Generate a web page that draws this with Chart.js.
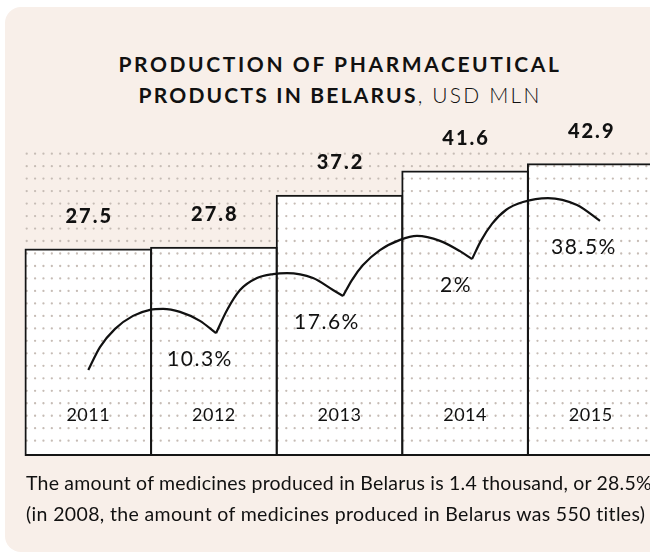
<!DOCTYPE html>
<html lang="en">
<head>
<meta charset="UTF-8">
<title>Production of pharmaceutical products in Belarus</title>
<script src="https://cdn.jsdelivr.net/npm/chart.js"></script>
<style>
  html, body { margin: 0; padding: 0; background: #fff; width: 650px; height: 553px; overflow: hidden; }
  body { position: relative; font-family: 'Lato', sans-serif; color: #111; }
  .panel { position: absolute; left: 5px; top: 7px; width: 680px; height: 545px; background: #f8efe9; border-radius: 16px; }
  .title { position: absolute; left: 5px; width: 670px; top: 48px; text-align: center; font-size: 21px; line-height: 31px; }
  .title .l1 { letter-spacing: 2.6px; }
  .title .l2 { letter-spacing: 2.2px; }
  .title b { font-weight: 700; }
  .title span { font-weight: 300; }
  .note { position: absolute; left: 26px; top: 467px; font-size: 19.5px; line-height: 31px; white-space: nowrap; }
  .note .n1 { letter-spacing: 0.2px; }
  .note .n2 { letter-spacing: 0.35px; }
  #chart { position: absolute; left: 0; top: 0; }
</style>
</head>
<body>
<div class="panel"></div>
<div class="title"><div class="l1"><b>PRODUCTION OF PHARMACEUTICAL</b></div><div class="l2"><b>PRODUCTS IN BELARUS</b><span>, USD MLN</span></div></div>
<canvas id="chart" width="680" height="553"></canvas>
<div class="note"><div class="n1">The amount of medicines produced in Belarus is 1.4 thousand, or 28.5%</div><div class="n2">(in 2008, the amount of medicines produced in Belarus was 550 titles)</div></div>

<script>
// production, USD mln
const years = ['2011', '2012', '2013', '2014', '2015'];
const output = [27.5, 27.8, 37.2, 41.6, 42.9];
const growth = ['10.3%', '17.6%', '2%', '38.5%'];

// decorative growth curve
// x in bar positions (0 = first bar centre), y in % of plot height
const arcX = [
    [0.00, 0.093, 0.213, 0.356, 0.491, 0.595, 0.730, 0.889, 1.017],
    [1.017, 1.105, 1.208, 1.343, 1.471, 1.582, 1.789, 1.948, 2.028],
    [2.028, 2.099, 2.187, 2.322, 2.482, 2.617, 2.800, 2.959, 3.055],
    [3.055, 3.126, 3.214, 3.325, 3.461, 3.660, 3.891, 4.074]
];
const arcY = [
    [25.9, 32.8, 38.3, 42.2, 44.0, 44.3, 43.4, 40.7, 37.0],
    [37.0, 44.0, 50.0, 53.6, 54.8, 55.1, 53.6, 50.0, 48.2],
    [48.2, 53.0, 57.5, 62.0, 65.1, 66.3, 64.8, 61.7, 59.3],
    [59.3, 64.8, 69.9, 74.1, 76.5, 77.7, 75.6, 70.8]
];

const barWidth = 127.6 / 125.6;

const decor = {
    id: 'decor',
    afterDatasetDraw(chart, args) {
        if (args.index !== 0) return;
        // dotted grid over the white bars and the panel
        const ctx = chart.ctx, area = chart.chartArea, x = chart.scales.x;
        const step = (x.getPixelForValue(1) - x.getPixelForValue(0)) / 15;
        ctx.save();
        ctx.fillStyle = '#c6bcb5';
        for (let r = 0; r < 24; r++) {
            const py = area.bottom - 15.3 - r * 12.48;
            for (let px = area.left + 1.2; px < chart.width; px += step) {
                ctx.beginPath();
                ctx.arc(px, py, 1.15, 0, Math.PI * 2);
                ctx.fill();
            }
        }
        ctx.restore();
    },
    afterDatasetsDraw(chart) {
        const ctx = chart.ctx, area = chart.chartArea;
        ctx.save();
        ctx.fillStyle = '#111';
        ctx.textAlign = 'center';
        ctx.textBaseline = 'middle';

        const bars = chart.getDatasetMeta(1).data;
        ctx.font = '900 20px Lato';
        ctx.letterSpacing = '2px';
        bars.forEach((bar, i) => ctx.fillText(output[i].toFixed(1), bar.x + 1, bar.y - 32));

        ctx.font = '18px Lato';
        ctx.letterSpacing = '0.5px';
        bars.forEach((bar, i) => ctx.fillText(years[i], bar.x, area.bottom - 41));

        ctx.font = '21px Lato';
        ctx.letterSpacing = '1.5px';
        growth.forEach((g, i) => {
            const pts = chart.getDatasetMeta(2 + i).data;
            const end = pts[pts.length - 1];
            ctx.fillText(g, end.x - 16, end.y + 26);
        });
        ctx.restore();
    }
};

const barCommon = {
    type: 'bar',
    data: output,
    base: -10,
    barPercentage: barWidth,
    categoryPercentage: 1,
    grouped: false,
    inflateAmount: 0,
    clip: false
};

new Chart(document.getElementById('chart'), {
    type: 'bar',
    data: {
        labels: years,
        datasets: [
            Object.assign({}, barCommon, { backgroundColor: '#ffffff', borderWidth: 0, order: 3 }),
            Object.assign({}, barCommon, {
                backgroundColor: 'rgba(0,0,0,0)',
                borderColor: '#151515',
                borderWidth: 2,
                borderSkipped: false,
                order: 2
            })
        ].concat(arcX.map((xs, k) => ({
            type: 'line',
            data: xs.map((x, i) => ({ x: x, y: arcY[k][i] })),
            xAxisID: 'xc',
            yAxisID: 'yc',
            borderColor: '#111',
            borderWidth: 2.2,
            pointRadius: 0,
            cubicInterpolationMode: 'monotone',
            fill: false,
            clip: false,
            order: 1
        })))
    },
    options: {
        responsive: false,
        animation: false,
        layout: { padding: { left: 25.5, right: 26.5, top: 124, bottom: 97 } },
        plugins: { legend: { display: false }, tooltip: { enabled: false } },
        scales: {
            x: { type: 'category', display: false, offset: true },
            y: { display: false, min: -10, max: 50 },
            xc: { type: 'linear', display: false, offset: false, min: -0.5, max: 4.5 },
            yc: { type: 'linear', display: false, min: 0, max: 100 }
        }
    },
    plugins: [decor]
});
</script>
</body>
</html>
